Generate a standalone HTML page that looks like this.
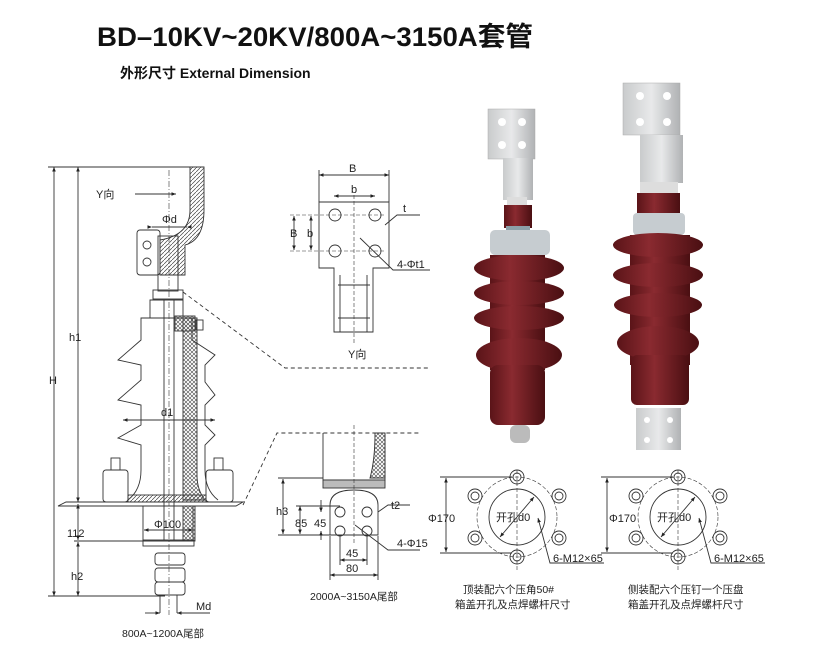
<!DOCTYPE html>
<html><head><meta charset="utf-8"><style>
html,body{margin:0;padding:0;background:#fff;}
svg{display:block;}
text{font-family:"Liberation Sans","Noto Sans CJK SC",sans-serif;fill:#222;}
</style></head><body>
<svg width="839" height="658" viewBox="0 0 839 658" xmlns="http://www.w3.org/2000/svg">
<defs>
<pattern id="hx" width="4" height="4" patternUnits="userSpaceOnUse"><path d="M0 4L4 0M0 0L4 4" stroke="#444" stroke-width="0.6"/></pattern>
<pattern id="hd" width="4" height="4" patternUnits="userSpaceOnUse"><path d="M0 4L4 0" stroke="#444" stroke-width="0.7"/></pattern>
<marker id="a" markerWidth="6" markerHeight="6" refX="5" refY="3" orient="auto"><path d="M0 1L5 3L0 5z" fill="#222"/></marker>
<marker id="b" markerWidth="6" markerHeight="6" refX="1" refY="3" orient="auto"><path d="M6 1L1 3L6 5z" fill="#222"/></marker>
<linearGradient id="red" x1="0" x2="1"><stop offset="0" stop-color="#5a1418"/><stop offset="0.4" stop-color="#8a2a30"/><stop offset="1" stop-color="#4a0f12"/></linearGradient>
<linearGradient id="sil" x1="0" x2="1"><stop offset="0" stop-color="#c9cbcc"/><stop offset="0.5" stop-color="#e8e9ea"/><stop offset="1" stop-color="#b0b2b4"/></linearGradient>
</defs>
<rect width="839" height="658" fill="#fff"/>
<text x="97" y="46" font-size="27" font-weight="bold" textLength="436" lengthAdjust="spacingAndGlyphs" style="fill:#111">BD–10KV~20KV/800A~3150A套管</text>
<text x="120" y="78" font-size="14" font-weight="bold" style="fill:#111">外形尺寸 External Dimension</text>

<g stroke="#333" stroke-width="0.9" fill="none">
<!-- main drawing -->
<line x1="48" y1="167" x2="190" y2="167"/>
<line x1="54" y1="167" x2="54" y2="596" marker-start="url(#b)" marker-end="url(#a)"/>
<line x1="78" y1="167" x2="78" y2="502" marker-start="url(#b)" marker-end="url(#a)"/>
<line x1="78" y1="504" x2="78" y2="540" marker-start="url(#b)" marker-end="url(#a)"/>
<line x1="78" y1="542" x2="78" y2="596" marker-start="url(#b)" marker-end="url(#a)"/>
<line x1="74" y1="541" x2="193" y2="541"/>
<line x1="48" y1="596" x2="165" y2="596"/>
<line x1="135" y1="194" x2="176" y2="194" marker-end="url(#a)"/>
<path d="M190 167 H204 V210 Q204 240 185 245 V275 H160 V240 Q190 235 190 210Z" fill="url(#hd)"/>
<rect x="137" y="230" width="23" height="45" rx="3"/>
<circle cx="147" cy="245" r="4"/><circle cx="147" cy="262" r="4"/>
<line x1="152" y1="227" x2="187" y2="227" marker-start="url(#a)" marker-end="url(#b)"/>
<rect x="158" y="236" width="20" height="55"/>
<rect x="153" y="290" width="30" height="9"/>
<path d="M150 300 H183 V318 H150Z"/>
<path d="M150 318 H141 V340 L118 360 L141 365 V380 L118 400 L141 405 V425 L118 438 L141 445 V470 Q141 490 128 500"/>
<path d="M183 318 H192 V340 L215 355 L205 365 V382 L215 395 L205 405 V425 L215 435 L205 445 V470 Q205 490 218 500"/>
<path d="M183 318 H197 V475 Q197 490 205 500 H183Z" fill="url(#hx)"/>
<rect x="175" y="316" width="20" height="15" fill="url(#hx)"/>
<rect x="196" y="320" width="7" height="10"/>
<line x1="164" y1="300" x2="164" y2="540"/><line x1="174" y1="300" x2="174" y2="540"/>
<line x1="123" y1="420" x2="215" y2="420" marker-start="url(#b)" marker-end="url(#a)"/>
<path d="M58 506 L66 502 H243 L236 506Z"/>
<rect x="103" y="470" width="25" height="32" rx="3"/><rect x="206" y="470" width="27" height="32" rx="3"/>
<rect x="111" y="458" width="9" height="12"/><rect x="214" y="458" width="9" height="12"/>
<rect x="128" y="495" width="78" height="7" fill="url(#hd)"/>
<rect x="143" y="506" width="50" height="35"/>
<rect x="183" y="506" width="12" height="35" fill="url(#hx)"/>
<line x1="144" y1="530" x2="193" y2="530" marker-start="url(#b)" marker-end="url(#a)"/>
<rect x="143" y="540" width="51" height="6"/>
<rect x="155" y="553" width="30" height="12" rx="3"/><rect x="155" y="568" width="30" height="14" rx="3"/><rect x="155" y="582" width="30" height="13" rx="3"/>
<line x1="160" y1="595" x2="160" y2="613"/><line x1="177" y1="595" x2="177" y2="613"/>
<line x1="145" y1="613" x2="160" y2="613" marker-end="url(#a)"/><line x1="193" y1="613" x2="177" y2="613" marker-end="url(#a)"/>
<line x1="177" y1="613" x2="210" y2="613"/>
<line x1="169" y1="170" x2="169" y2="615" stroke-dasharray="6 2 1 2" stroke-width="0.6"/>
<!-- dashed leaders -->
<path d="M183 292 L285 368 H430" stroke-dasharray="4 3"/>
<path d="M243 505 L277 433 H420" stroke-dasharray="4 3"/>

<!-- Y view -->
<line x1="319" y1="175" x2="389" y2="175" marker-start="url(#b)" marker-end="url(#a)"/>
<line x1="319" y1="170" x2="319" y2="202"/><line x1="389" y1="170" x2="389" y2="202"/>
<line x1="334" y1="196" x2="375" y2="196" marker-start="url(#b)" marker-end="url(#a)"/>
<path d="M319 202 H389 V268 H373 V332 H334 V268 H319Z"/>
<circle cx="335" cy="215" r="6"/><circle cx="375" cy="215" r="6"/><circle cx="335" cy="251" r="6"/><circle cx="375" cy="251" r="6"/>
<line x1="290" y1="215" x2="385" y2="215" stroke-dasharray="4 2" stroke-width="0.6"/>
<line x1="290" y1="251" x2="385" y2="251" stroke-dasharray="4 2" stroke-width="0.6"/>
<line x1="294" y1="216" x2="294" y2="250" marker-start="url(#b)" marker-end="url(#a)"/>
<line x1="311" y1="216" x2="311" y2="250" marker-start="url(#b)" marker-end="url(#a)"/>
<line x1="354" y1="195" x2="354" y2="345" stroke-dasharray="4 2" stroke-width="0.6"/>
<line x1="340" y1="275" x2="340" y2="332"/><line x1="367" y1="275" x2="367" y2="332"/>
<line x1="338" y1="285" x2="370" y2="285"/><line x1="338" y1="318" x2="370" y2="318"/>
<path d="M385 225 L397 215 H420"/>
<path d="M360 238 L393 270 H430"/>
<!-- tail view -->
<path d="M323 433 V480 H385 V433"/>
<path d="M375 433 H385 V478 H370 Q375 460 375 433Z" fill="url(#hx)"/>
<rect x="323" y="480" width="62" height="8" fill="#bbb"/>
<path d="M330 533 V505 Q330 490 354 490 Q378 490 378 505 V535 H330Z"/>
<circle cx="340" cy="512" r="5"/><circle cx="367" cy="512" r="5"/><circle cx="340" cy="531" r="5"/><circle cx="367" cy="531" r="5"/>
<line x1="354" y1="425" x2="354" y2="545" stroke-dasharray="4 2" stroke-width="0.6"/>
<line x1="278" y1="478" x2="323" y2="478"/><line x1="278" y1="535" x2="330" y2="535"/>
<line x1="283" y1="479" x2="283" y2="534" marker-start="url(#b)" marker-end="url(#a)"/>
<line x1="300" y1="506" x2="300" y2="534" marker-start="url(#b)" marker-end="url(#a)"/>
<line x1="296" y1="506" x2="340" y2="506"/>
<line x1="321" y1="500" x2="321" y2="512" marker-end="url(#a)"/><line x1="321" y1="540" x2="321" y2="531" marker-end="url(#a)"/>
<line x1="340" y1="536" x2="340" y2="565"/><line x1="367" y1="536" x2="367" y2="565"/>
<line x1="340" y1="560" x2="367" y2="560" marker-start="url(#b)" marker-end="url(#a)"/>
<line x1="330" y1="536" x2="330" y2="580"/><line x1="378" y1="536" x2="378" y2="580"/>
<line x1="330" y1="575" x2="378" y2="575" marker-start="url(#b)" marker-end="url(#a)"/>
<path d="M378 512 L388 505 H410"/>
<path d="M355 525 L388 550 H420"/>

<!-- flange diagrams -->
<g id="fl">
<circle cx="517" cy="517" r="40" stroke-dasharray="4 2" stroke-width="0.6"/>
<circle cx="517" cy="517" r="28"/>
<line x1="517" y1="470" x2="517" y2="570" stroke-dasharray="4 2" stroke-width="0.6"/>
<g><circle cx="517" cy="477" r="7"/><circle cx="517" cy="477" r="4"/>
<circle cx="517" cy="557" r="7"/><circle cx="517" cy="557" r="4"/>
<circle cx="475" cy="496" r="7"/><circle cx="475" cy="496" r="4"/>
<circle cx="559" cy="496" r="7"/><circle cx="559" cy="496" r="4"/>
<circle cx="475" cy="538" r="7"/><circle cx="475" cy="538" r="4"/>
<circle cx="559" cy="538" r="7"/><circle cx="559" cy="538" r="4"/></g>
<line x1="534" y1="497" x2="500" y2="537" marker-start="url(#b)" marker-end="url(#a)"/>
<line x1="440" y1="477" x2="512" y2="477"/><line x1="440" y1="553" x2="512" y2="553"/>
<line x1="446" y1="478" x2="446" y2="552" marker-start="url(#b)" marker-end="url(#a)"/>
<path d="M538 518 L550 563 H604" marker-start="url(#b)"/>
</g>
<use href="#fl" x="161"/>
</g>

<g font-size="11">
<text x="96" y="198">Y向</text>
<text x="162" y="223">Φd</text>
<text x="69" y="341">h1</text>
<text x="49" y="384">H</text>
<text x="161" y="416">d1</text>
<text x="67" y="537">112</text>
<text x="154" y="528">Φ100</text>
<text x="71" y="580">h2</text>
<text x="196" y="610">Md</text>
<text x="122" y="637" font-size="10.5">800A~1200A尾部</text>
<text x="349" y="172">B</text>
<text x="351" y="193">b</text>
<text x="403" y="212">t</text>
<text x="290" y="237">B</text>
<text x="307" y="237">b</text>
<text x="397" y="268">4-Φt1</text>
<text x="348" y="358">Y向</text>
<text x="276" y="515">h3</text>
<text x="295" y="527">85</text>
<text x="314" y="527">45</text>
<text x="391" y="509">t2</text>
<text x="397" y="547">4-Φ15</text>
<text x="346" y="557">45</text>
<text x="346" y="572">80</text>
<text x="310" y="600" font-size="10.5">2000A~3150A尾部</text>
<text x="428" y="522">Φ170</text>
<text x="496" y="521">开孔d0</text>
<text x="553" y="562">6-M12×65</text>
<text x="609" y="522">Φ170</text>
<text x="657" y="521">开孔d0</text>
<text x="714" y="562">6-M12×65</text>
<text x="463" y="593" font-size="10.5">顶装配六个压角50#</text>
<text x="455" y="608" font-size="10.5">箱盖开孔及点焊螺杆尺寸</text>
<text x="628" y="593" font-size="10.5">侧装配六个压钉一个压盘</text>
<text x="628" y="608" font-size="10.5">箱盖开孔及点焊螺杆尺寸</text>
</g>

<!-- photo 1 -->
<g>
<rect x="488" y="109" width="47" height="50" fill="url(#sil)" stroke="#aaa" stroke-width="0.5"/>
<g fill="#fff"><circle cx="502" cy="122" r="4"/><circle cx="522" cy="122" r="4"/><circle cx="502" cy="145" r="4"/><circle cx="522" cy="145" r="4"/></g>
<rect x="503" y="158" width="30" height="42" fill="url(#sil)"/>
<rect x="507" y="197" width="20" height="10" fill="#ddd"/>
<rect x="504" y="205" width="28" height="23" fill="url(#red)"/>
<rect x="506" y="226" width="24" height="6" fill="#8ca0a8"/>
<rect x="490" y="230" width="60" height="25" rx="5" fill="#c6ccd0"/>
<rect x="490" y="255" width="55" height="115" fill="url(#red)"/>
<ellipse cx="519" cy="268" rx="45" ry="13" fill="url(#red)"/>
<ellipse cx="519" cy="293" rx="45" ry="12" fill="url(#red)"/>
<ellipse cx="519" cy="318" rx="45" ry="12" fill="url(#red)"/>
<ellipse cx="519" cy="355" rx="43" ry="17" fill="url(#red)"/>
<rect x="490" y="365" width="55" height="60" rx="8" fill="url(#red)"/>
<rect x="510" y="425" width="20" height="18" rx="6" fill="#bbb"/>
</g>
<!-- photo 2 -->
<g>
<rect x="623" y="83" width="57" height="52" fill="url(#sil)" stroke="#aaa" stroke-width="0.5"/>
<g fill="#fff"><circle cx="640" cy="96" r="4"/><circle cx="667" cy="96" r="4"/><circle cx="640" cy="122" r="4"/><circle cx="667" cy="122" r="4"/></g>
<rect x="640" y="135" width="43" height="48" fill="url(#sil)"/>
<rect x="640" y="182" width="38" height="12" fill="#ddd"/>
<rect x="637" y="193" width="43" height="22" fill="url(#red)"/>
<rect x="633" y="213" width="52" height="22" rx="4" fill="#c6ccd0"/>
<rect x="630" y="235" width="60" height="130" fill="url(#red)"/>
<ellipse cx="658" cy="245" rx="45" ry="12" fill="url(#red)"/>
<ellipse cx="658" cy="275" rx="45" ry="12" fill="url(#red)"/>
<ellipse cx="658" cy="305" rx="44" ry="12" fill="url(#red)"/>
<ellipse cx="658" cy="343" rx="41" ry="17" fill="url(#red)"/>
<rect x="631" y="355" width="58" height="50" rx="6" fill="url(#red)"/>
<rect x="636" y="408" width="45" height="42" fill="url(#sil)"/>
<g fill="#fff"><circle cx="647" cy="420" r="3"/><circle cx="670" cy="420" r="3"/><circle cx="647" cy="440" r="3"/><circle cx="670" cy="440" r="3"/></g>
</g>
</svg>
</body></html>
